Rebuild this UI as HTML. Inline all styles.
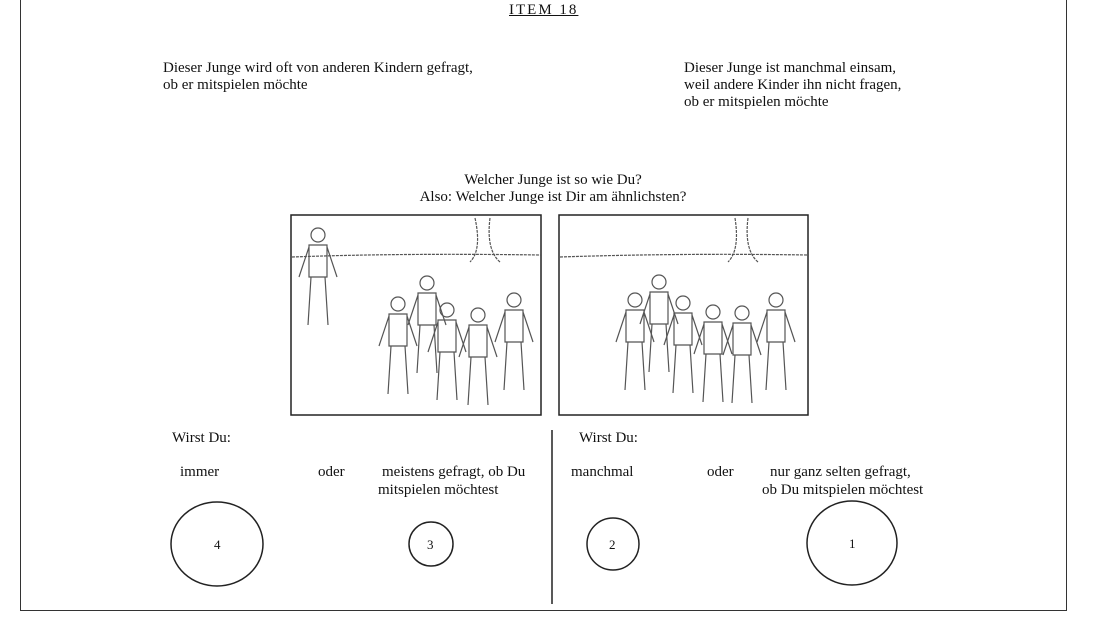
<!DOCTYPE html>
<html><head><meta charset="utf-8"><style>
body{margin:0;width:1100px;height:619px;background:#fff;position:relative;overflow:hidden;font-family:"Liberation Serif",serif;font-size:15px;color:#111}
.t{position:absolute;white-space:nowrap;line-height:17px}
</style></head><body>
<div style="position:absolute;left:20px;top:-1px;width:1045px;height:610px;border:1px solid #333"></div>
<div class="t" style="left:509px;top:2px;letter-spacing:2px;text-decoration:underline">ITEM 18</div>
<div class="t" style="left:163px;top:60px">Dieser Junge wird oft von anderen Kindern gefragt,<br>ob er mitspielen möchte</div>
<div class="t" style="left:684px;top:60px">Dieser Junge ist manchmal einsam,<br>weil andere Kinder ihn nicht fragen,<br>ob er mitspielen möchte</div>
<div class="t" style="left:0;width:1106px;text-align:center;top:172px">Welcher Junge ist so wie Du?<br>Also: Welcher Junge ist Dir am ähnlichsten?</div>
<svg style="position:absolute;left:0;top:0" width="1100" height="619">
<defs>
<g id="f">
<circle cx="0" cy="0" r="7"/><path d="M-9 10 h18 v32 h-18 z M-9 12 l-10 30 M9 12 l10 30 M-7 42 l-3 48 M7 42 l3 48"/>
</g>
</defs>
<g fill="none" stroke="#222" stroke-width="1.5">
<rect x="291" y="215" width="250" height="200"/>
<rect x="559" y="215" width="249" height="200"/>
<line x1="552" y1="430" x2="552" y2="604"/>
<ellipse cx="217" cy="544" rx="46" ry="42"/>
<circle cx="431" cy="544" r="22"/>
<circle cx="613" cy="544" r="26"/>
<ellipse cx="852" cy="543" rx="45" ry="42"/>
</g>
<g fill="none" stroke="#555" stroke-width="1.2" stroke-dasharray="3 1">
<path d="M292 257 Q400 253 541 255"/><path d="M560 257 Q680 253 807 255"/>
<path d="M475 218 Q482 250 470 262 M490 218 Q486 250 500 262"/>
<path d="M735 218 Q740 250 728 262 M748 218 Q744 250 758 262"/>
</g>
<g fill="none" stroke="#555" stroke-width="1.2">
<use href="#f" x="318" y="235"/>
<use href="#f" x="398" y="304"/><use href="#f" x="427" y="283"/><use href="#f" x="447" y="310"/>
<use href="#f" x="478" y="315"/><use href="#f" x="514" y="300"/>
<use href="#f" x="635" y="300"/><use href="#f" x="659" y="282"/><use href="#f" x="683" y="303"/>
<use href="#f" x="713" y="312"/><use href="#f" x="742" y="313"/><use href="#f" x="776" y="300"/>
</g>
<g font-family="Liberation Serif,serif" font-size="13" fill="#111">
<text x="214" y="549">4</text><text x="427" y="549">3</text><text x="609" y="549">2</text><text x="849" y="548">1</text>
</g>
</svg>
<div class="t" style="left:172px;top:430px">Wirst Du:</div>
<div class="t" style="left:180px;top:464px">immer</div>
<div class="t" style="left:318px;top:464px">oder</div>
<div class="t" style="left:382px;top:464px">meistens gefragt, ob Du</div>
<div class="t" style="left:378px;top:482px">mitspielen möchtest</div>
<div class="t" style="left:579px;top:430px">Wirst Du:</div>
<div class="t" style="left:571px;top:464px">manchmal</div>
<div class="t" style="left:707px;top:464px">oder</div>
<div class="t" style="left:770px;top:464px">nur ganz selten gefragt,</div>
<div class="t" style="left:762px;top:482px">ob Du mitspielen möchtest</div>
</body></html>
